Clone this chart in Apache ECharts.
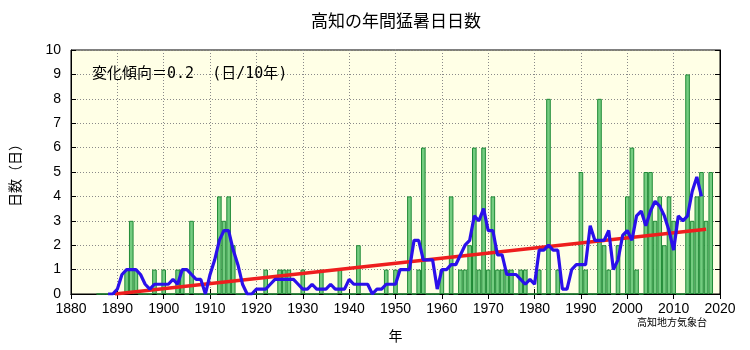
<!DOCTYPE html>
<html><head><meta charset="utf-8">
<script src="https://cdn.jsdelivr.net/npm/echarts@6/dist/echarts.min.js"></script>
<style>html,body{margin:0;padding:0;background:#fff}#c{width:750px;height:350px}</style>
</head><body><div id="c"></div>
<script>
// annual count of extremely hot days (>=35C), 1886..2018
const firstYear = 1886;
const hotDays = [
  0,0,0,0,                 // 1886-1889
  0,0,1,3,1,0,0,0,1,0,     // 1890s
  1,0,0,1,1,0,3,0,0,0,     // 1900s
  0,0,4,3,4,2,0,0,0,0,     // 1910s
  0,0,1,0,0,1,1,1,0,0,     // 1920s
  1,0,0,0,1,0,0,0,1,0,     // 1930s
  0,0,2,0,0,0,0,0,1,0,     // 1940s
  1,0,0,4,0,1,6,0,0,0,     // 1950s
  1,0,4,0,1,1,2,6,1,6,     // 1960s
  1,4,1,1,1,1,0,1,1,0,     // 1970s
  0,1,0,8,0,1,0,0,0,0,     // 1980s
  5,1,0,0,8,2,1,0,2,0,     // 1990s
  4,6,1,0,5,5,3,4,2,4,     // 2000s
  3,0,0,9,3,4,5,3,5        // 2010s
];
// 5-year running mean, 1888..2016
const avgFirstYear = 1888;
const runningMean = [
  0,0,
  0.2,0.8,1.0,1.0,1.0,0.8,0.4,0.2,0.4,0.4,
  0.4,0.4,0.6,0.4,1.0,1.0,0.8,0.6,0.6,0,
  0.8,1.4,2.2,2.6,2.6,1.8,1.2,0.4,0,0,
  0.2,0.2,0.2,0.4,0.6,0.6,0.6,0.6,0.6,0.4,
  0.2,0.2,0.4,0.2,0.2,0.2,0.4,0.2,0.2,0.2,
  0.6,0.4,0.4,0.4,0.4,0,0.2,0.2,0.4,0.4,
  0.4,1.0,1.0,1.0,2.2,2.2,1.4,1.4,1.4,0.2,
  1.0,1.0,1.2,1.2,1.6,2.0,2.2,3.2,3.0,3.5,
  2.6,2.6,1.6,1.6,0.8,0.8,0.8,0.6,0.4,0.6,
  0.4,1.8,1.8,2.0,1.8,1.8,0.2,0.2,1.0,1.2,
  1.2,1.2,2.8,2.2,2.2,2.2,2.6,1.0,1.4,2.4,
  2.6,2.2,3.2,3.4,2.8,3.4,3.8,3.6,3.2,2.6,
  1.8,3.2,3.0,3.2,4.2,4.8,4.0
];
const trendYears = [1889.5, 2017];
const trendValues = [0, 2.65];
const xMin = 1880, xMax = 2020, xStep = 10;
const yMin = 0, yMax = 10, yStep = 1;

const barData = hotDays.map((v, i) => [firstYear + i, v]);
const meanData = runningMean.map((v, i) => [avgFirstYear + i, v]);
const trendData = trendYears.map((y, i) => [y, trendValues[i]]);

const FONT = '"Liberation Sans", Arial, sans-serif';
const JP = '"Noto Sans CJK JP", sans-serif';
const MONO = '"DejaVu Sans Mono", "Noto Sans CJK JP", monospace';
const dotted = { show: true, lineStyle: { color: '#8a8a8a', type: [1, 2], width: 1 } };
const tick = { show: true, inside: true, length: 5, lineStyle: { color: '#000' } };
const line = { show: true, lineStyle: { color: '#000', width: 1 } };

const chart = echarts.init(document.getElementById('c'), null, { renderer: 'canvas' });
chart.setOption({
  animation: false,
  backgroundColor: '#ffffff',
  grid: { left: 71, right: 30, top: 50, bottom: 56, show: true, backgroundColor: '#ffffe6', borderColor: '#000', borderWidth: 1 },
  xAxis: [
    { type: 'value', min: xMin, max: xMax, interval: xStep, position: 'bottom',
      axisLine: line, axisTick: tick, splitLine: dotted,
      axisLabel: { color: '#000', fontSize: 14, fontFamily: FONT, margin: 8, formatter: v => String(v) },
      name: '年', nameLocation: 'middle', nameGap: 35,
      nameTextStyle: { color: '#000', fontSize: 14, fontFamily: JP } },
    { type: 'value', min: xMin, max: xMax, interval: xStep, position: 'top',
      axisLine: line, axisTick: tick, splitLine: { show: false }, axisLabel: { show: false } }
  ],
  yAxis: [
    { type: 'value', min: yMin, max: yMax, interval: yStep, position: 'left',
      axisLine: line, axisTick: tick, splitLine: dotted,
      axisLabel: { color: '#000', fontSize: 14, fontFamily: FONT, margin: 10 },
      name: '日数（日）', nameLocation: 'middle', nameGap: 49, nameRotate: 90,
      nameTextStyle: { color: '#000', fontSize: 14, fontFamily: JP } },
    { type: 'value', min: yMin, max: yMax, interval: yStep, position: 'right',
      axisLine: line, axisTick: tick, splitLine: { show: false }, axisLabel: { show: false } }
  ],
  series: [
    { type: 'bar', data: barData, barWidth: 4.6, z: 2,
      itemStyle: { color: '#74cc80', borderColor: '#1f8a36', borderWidth: 1 } },
    { type: 'line', data: trendData, symbol: 'none', z: 3,
      lineStyle: { color: '#ee1e1e', width: 3.5 } },
    { type: 'line', data: meanData, symbol: 'none', z: 4,
      lineStyle: { color: '#2a10ea', width: 3.2 } }
  ],
  graphic: [
    { type: 'text', x: 396, y: 21, style: { text: '高知の年間猛暑日日数', fontSize: 17, fontFamily: JP, fill: '#000', textAlign: 'center', textVerticalAlign: 'middle' } },
    { type: 'text', x: 92, y: 74, z: 10, style: { text: '変化傾向＝0.2  (日/10年)', fontSize: 15, fontFamily: MONO, fill: '#000', textAlign: 'left', textVerticalAlign: 'middle' } },
    { type: 'text', x: 672, y: 322, style: { text: '高知地方気象台', fontSize: 10, fontFamily: JP, fill: '#000', textAlign: 'center', textVerticalAlign: 'middle' } }
  ]
});
</script></body></html>
